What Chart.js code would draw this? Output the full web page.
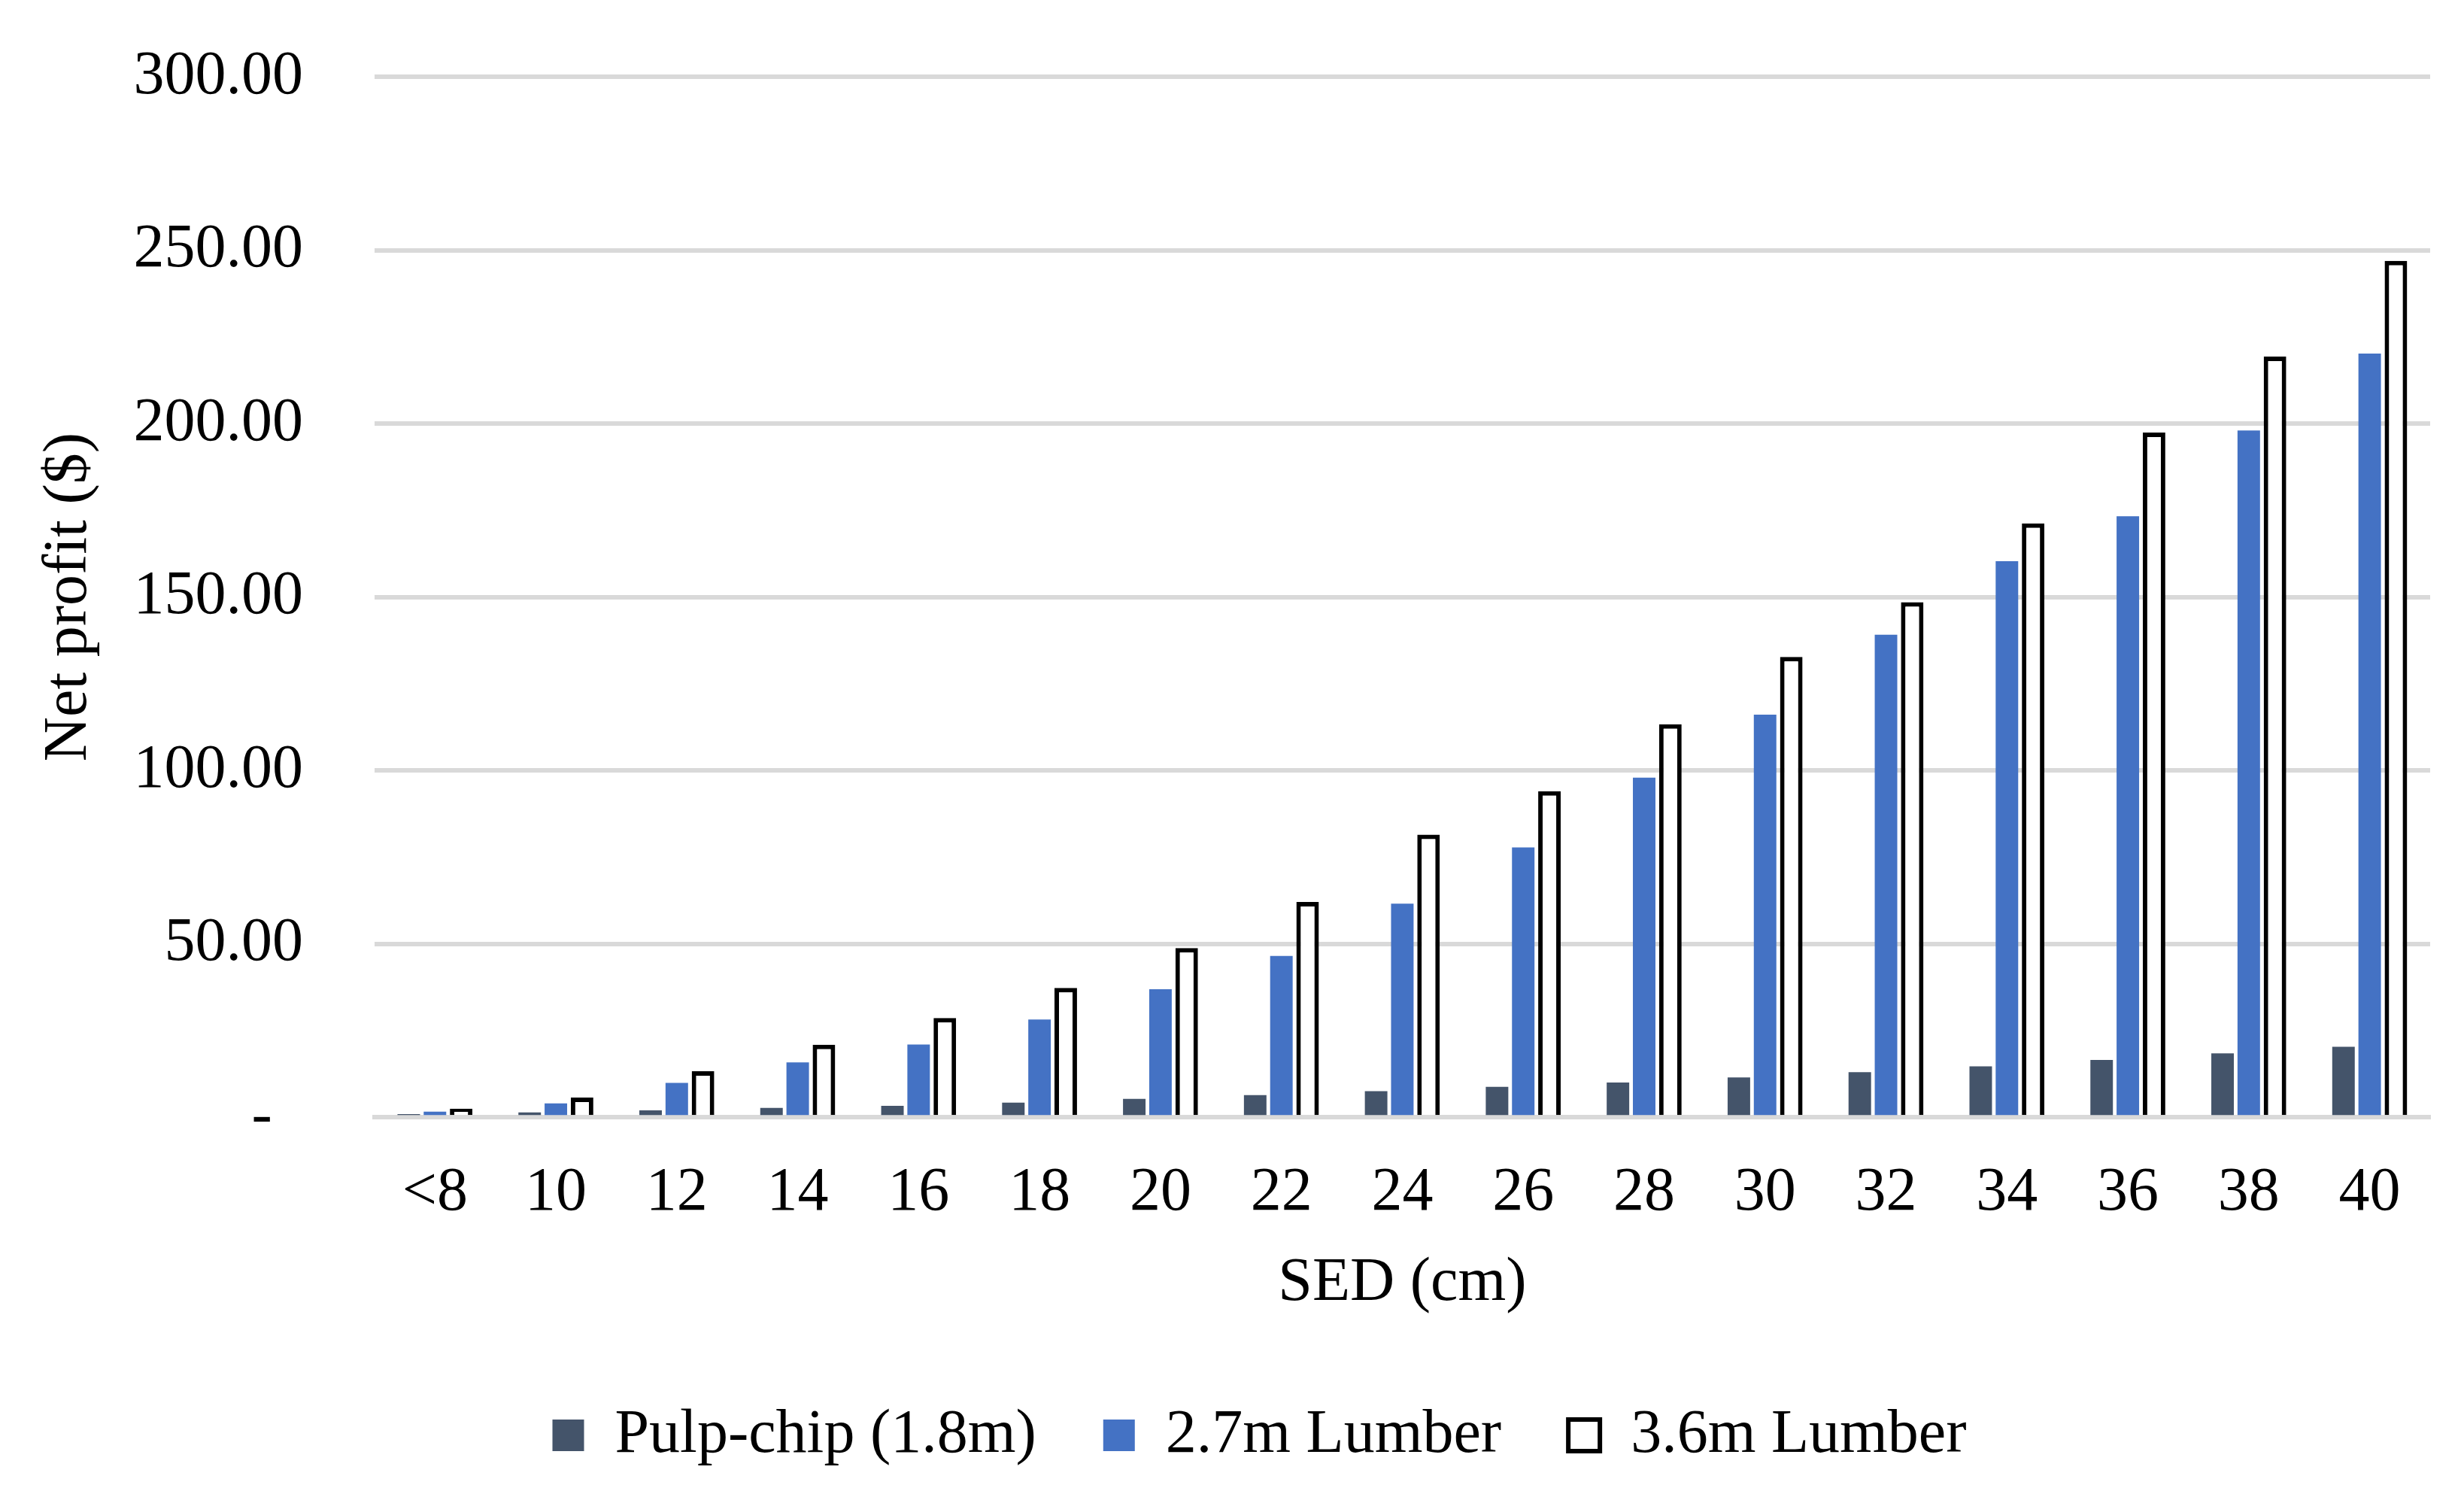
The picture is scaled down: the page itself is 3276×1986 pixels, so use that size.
<!DOCTYPE html>
<html>
<head>
<meta charset="utf-8">
<script src="https://cdn.jsdelivr.net/npm/chart.js@4.4.1/dist/chart.umd.min.js"></script>
<style>
    html, body { margin: 0; padding: 0; background: #fff; }
    #wrap { width: 3276px; height: 1986px; position: relative; }
</style>
</head>
<body>
<div id="wrap"><canvas id="profit-bar"></canvas></div>
<script>
// SED classes (cm)
const categories = ['<8', '10', '12', '14', '16', '18', '20', '22', '24', '26', '28', '30', '32', '34', '36', '38', '40'];

// net profit per log ($)
const pulpChip = [0.9, 1.4, 2.0, 2.7, 3.3, 4.2, 5.3, 6.4, 7.5, 8.8, 10.0, 11.5, 13.0, 14.7, 16.5, 18.4, 20.3];
const lumber27 = [1.6, 4.0, 9.9, 15.8, 21.0, 28.2, 36.9, 46.5, 61.6, 77.8, 97.9, 116.1, 139.1, 160.3, 173.3, 198.0, 220.2];
const lumber36 = [2.5, 5.7, 13.3, 20.9, 28.6, 37.3, 48.8, 62.1, 81.5, 94.0, 113.3, 132.7, 148.5, 171.2, 197.4, 219.3, 246.9];

const seriesNames = ['Pulp-chip (1.8m)', '2.7m Lumber', '3.6m Lumber'];

const yMin = 0;
const yMax = 300;
const yStep = 50;

const FONT = "'Liberation Serif', 'Times New Roman', serif";
const FS = 82;

const ctx = document.getElementById('profit-bar').getContext('2d');
new Chart(ctx, {
    type: 'bar',
    data: {
        labels: categories,
        datasets: [
            {
                label: seriesNames[0],
                data: pulpChip,
                backgroundColor: '#44546A',
                borderWidth: 0
            },
            {
                label: seriesNames[1],
                data: lumber27,
                backgroundColor: '#4472C4',
                borderWidth: 0
            },
            {
                label: seriesNames[2],
                data: lumber36,
                backgroundColor: '#FFFFFF',
                borderColor: '#000000',
                borderWidth: 6,
                borderSkipped: 'bottom'
            }
        ]
    },
    options: {
        responsive: true,
        maintainAspectRatio: false,
        animation: false,
        categoryPercentage: 0.65,
        barPercentage: 0.86,
        layout: {
            // left padding also centres the legend row where the original has it
            padding: { top: 102, right: 45, bottom: 27, left: 118 }
        },
        scales: {
            x: {
                z: 1,   // so the zero line sits over the bar feet
                grid: { display: false, drawTicks: false },
                border: { display: true, color: '#D9D9D9', width: 6 },
                ticks: {
                    color: '#000',
                    padding: 52,
                    font: { family: FONT, size: FS }
                },
                title: {
                    display: true,
                    text: 'SED (cm)',
                    color: '#000',
                    font: { family: FONT, size: FS },
                    padding: { top: -30, bottom: 22 }
                }
            },
            y: {
                min: yMin,
                max: yMax,
                grid: { color: '#D9D9D9', lineWidth: 6, drawTicks: false },
                border: { display: false },
                ticks: {
                    stepSize: yStep,
                    color: '#000',
                    padding: 95,
                    // small line height keeps the top label from pushing the plot down
                    font: { family: FONT, size: FS, lineHeight: 0.1 },
                    callback: function(value) {
                        // accounting format shows a dash for zero
                        return value === 0 ? '-\u00a0\u00a0' : value.toFixed(2);
                    }
                },
                title: {
                    display: true,
                    text: 'Net profit ($)',
                    color: '#000',
                    font: { family: FONT, size: FS },
                    padding: { top: -75, bottom: -59 }
                }
            }
        },
        plugins: {
            legend: {
                position: 'bottom',
                labels: {
                    color: '#000',
                    boxWidth: 42,
                    boxHeight: 42,
                    padding: 89,
                    font: { family: FONT, size: FS }
                }
            },
            tooltip: { enabled: false }
        }
    }
});
</script>
</body>
</html>
